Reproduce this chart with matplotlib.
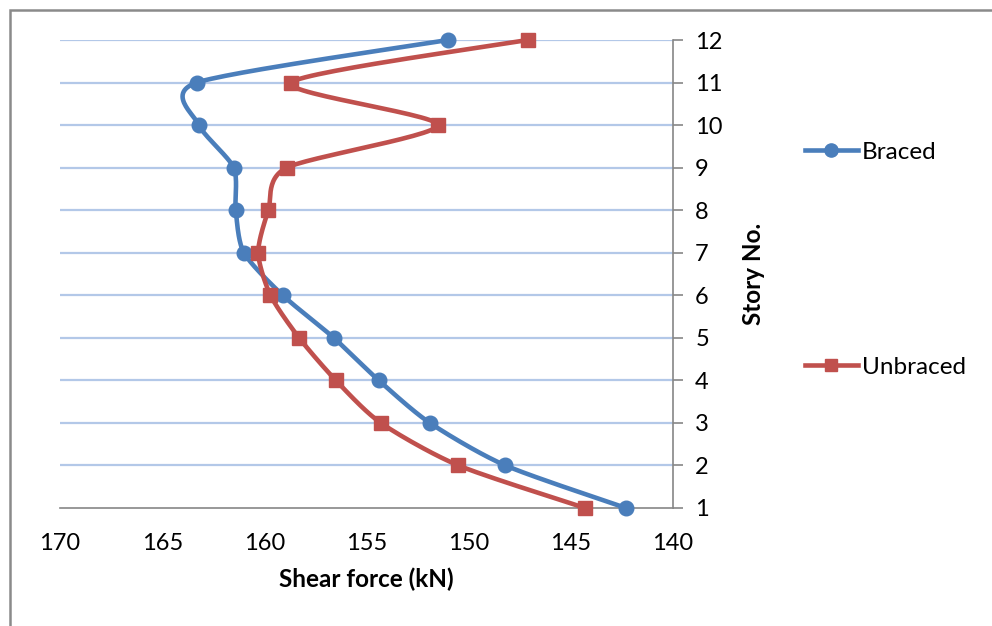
import numpy as np
import matplotlib
matplotlib.use("Agg")
import matplotlib.pyplot as plt
from matplotlib.lines import Line2D
from matplotlib.patches import Rectangle

plt.rcParams['font.family'] = ['Lato', 'DejaVu Sans']

stories = [1, 2, 3, 4, 5, 6, 7, 8, 9, 10, 11, 12]
braced = [142.3, 148.2, 151.9, 154.4, 156.6, 159.1, 161.0, 161.4, 161.5, 163.2, 163.3, 151.0]
unbraced = [144.3, 150.5, 154.3, 156.5, 158.3, 159.7, 160.3, 159.8, 158.9, 151.5, 158.7, 147.1]
x_ticks = [170, 165, 160, 155, 150, 145, 140]

BLUE = '#4A7EBB'
RED = '#C0504D'
GRID = '#B3C8E8'
AXIS = '#868686'


def smooth(xs, ys, n=30, k=1 / 8):
    """Bezier smoothing through every point."""
    p = np.column_stack([xs, ys]).astype(float)
    out = []
    for i in range(len(p) - 1):
        p0 = p[i - 1] if i > 0 else p[i]
        p1, p2 = p[i], p[i + 1]
        p3 = p[i + 2] if i + 2 < len(p) else p[i + 1]
        c1 = p1 + (p2 - p0) * k
        c2 = p2 - (p3 - p1) * k
        t = np.linspace(0, 1, n)[:, None]
        seg = ((1 - t) ** 3) * p1 + 3 * ((1 - t) ** 2) * t * c1 + 3 * (1 - t) * t ** 2 * c2 + t ** 3 * p2
        out.append(seg if i == 0 else seg[1:])
    s = np.vstack(out)
    return s[:, 0], s[:, 1]


fig = plt.figure(figsize=(9.92, 6.26), dpi=100)
ax = fig.add_axes([0.0605, 0.1885, 0.6179, 0.7476])

# horizontal gridlines
for s in stories[1:]:
    ax.axhline(s, color=GRID, lw=1.6, zorder=1)

for vals, color, marker, ms in [(braced, BLUE, 'o', 10.5), (unbraced, RED, 's', 9.5)]:
    sx, sy = smooth(vals, stories)
    ax.plot(sx, sy, color=color, lw=3.3, zorder=3, solid_capstyle='round',
            clip_on=False)
    ax.plot(vals, stories, linestyle='none', marker=marker, ms=ms,
            color=color, zorder=4, clip_on=False)

ax.set_xlim(170, 140)
ax.set_ylim(1, 12)
ax.set_xticks(x_ticks)
ax.set_yticks(stories)

ax.yaxis.tick_right()
ax.yaxis.set_label_position('right')
for side in ['top', 'left']:
    ax.spines[side].set_visible(False)
for side in ['bottom', 'right']:
    ax.spines[side].set_color(AXIS)
    ax.spines[side].set_linewidth(1.2)
    ax.spines[side].set_zorder(2)

ax.tick_params(axis='x', length=0, pad=18, labelsize=17, colors='black')
ax.tick_params(axis='y', length=7, width=1.2, color=AXIS, pad=9, labelsize=17)
for lab in ax.get_xticklabels() + ax.get_yticklabels():
    lab.set_color('black')

ax.set_xlabel('Shear force (kN)', fontsize=17.5, fontweight='bold', labelpad=10)
ax.set_ylabel('Story No.', fontsize=17.5, fontweight='bold', labelpad=14)
ax.patch.set_alpha(0)

handles = [
    Line2D([], [], color=BLUE, lw=3.3, marker='o', ms=9.5),
    Line2D([], [], color=RED, lw=3.3, marker='s', ms=8.5),
]
fig.legend([handles[0]], ['Braced'], loc='center left',
           bbox_to_anchor=(0.811, 1 - 152 / 626), frameon=False, fontsize=17.5,
           handlelength=2.2, handletextpad=0.15, borderpad=0, borderaxespad=0)
fig.legend([handles[1]], ['Unbraced'], loc='center left',
           bbox_to_anchor=(0.811, 1 - 367 / 626), frameon=False, fontsize=17.5,
           handlelength=2.2, handletextpad=0.15, borderpad=0, borderaxespad=0)

# outer chart frame
fig.patches.append(Rectangle((10 / 992, -0.1), 1.2, 1.1 - 10 / 626,
                             transform=fig.transFigure, fill=False,
                             edgecolor='#8A8A8A', lw=1.8))

fig.savefig('out.png', dpi=100)
